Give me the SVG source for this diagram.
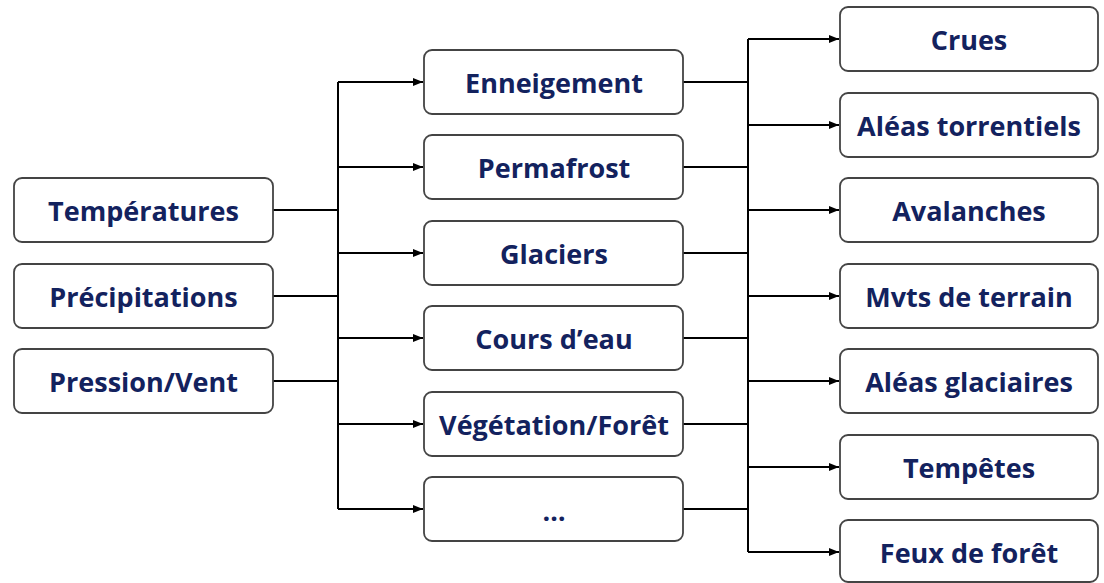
<svg xmlns="http://www.w3.org/2000/svg" width="1104" height="583" viewBox="0 0 1104 583">
<style>
.box{fill:#fff;stroke:#444;stroke-width:1.8}
.t{font-family:"Open Sans","Liberation Sans",sans-serif;font-weight:bold;font-size:27px;fill:#13225e;text-anchor:middle}
.c{fill:none;stroke:#000;stroke-width:2}
</style>
<defs>
<marker id="ah" viewBox="0 0 10 10" refX="10" refY="5" markerWidth="10" markerHeight="10" markerUnits="userSpaceOnUse" orient="auto">
<path d="M0,1 L10,5 L0,9 Z" fill="#000"/>
</marker>
</defs>
<rect width="1104" height="583" fill="#fff"/>
<g id="connectors">
<path class="c" d="M273,210 H338 M273,296 H338 M273,381 H338 M338,82 V509"/>
<path class="c" marker-end="url(#ah)" d="M338,82 H423"/>
<path class="c" marker-end="url(#ah)" d="M338,167 H423"/>
<path class="c" marker-end="url(#ah)" d="M338,253 H423"/>
<path class="c" marker-end="url(#ah)" d="M338,338 H423"/>
<path class="c" marker-end="url(#ah)" d="M338,424 H423"/>
<path class="c" marker-end="url(#ah)" d="M338,509 H423"/>
<path class="c" d="M683,82 H748 M683,167 H748 M683,253 H748 M683,338 H748 M683,424 H748 M683,509 H748 M748,39 V552"/>
<path class="c" marker-end="url(#ah)" d="M748,39 H839"/>
<path class="c" marker-end="url(#ah)" d="M748,125 H839"/>
<path class="c" marker-end="url(#ah)" d="M748,210 H839"/>
<path class="c" marker-end="url(#ah)" d="M748,296 H839"/>
<path class="c" marker-end="url(#ah)" d="M748,381 H839"/>
<path class="c" marker-end="url(#ah)" d="M748,467 H839"/>
<path class="c" marker-end="url(#ah)" d="M748,552 H839"/>
</g>
<g id="n-temperatures"><rect class="box" x="14" y="178" width="259" height="64" rx="8"/><text class="t" x="143.5" y="221">Températures</text></g>
<g id="n-precipitations"><rect class="box" x="14" y="264" width="259" height="64" rx="8"/><text class="t" x="143.5" y="307">Précipitations</text></g>
<g id="n-pression"><rect class="box" x="14" y="349" width="259" height="64" rx="8"/><text class="t" x="143.5" y="392">Pression/Vent</text></g>
<g id="n-enneigement"><rect class="box" x="424" y="50" width="259" height="64" rx="8"/><text class="t" x="554" y="93">Enneigement</text></g>
<g id="n-permafrost"><rect class="box" x="424" y="135" width="259" height="64" rx="8"/><text class="t" x="554" y="178">Permafrost</text></g>
<g id="n-glaciers"><rect class="box" x="424" y="221" width="259" height="64" rx="8"/><text class="t" x="554" y="264">Glaciers</text></g>
<g id="n-cours"><rect class="box" x="424" y="306" width="259" height="64" rx="8"/><text class="t" x="554" y="349">Cours d’eau</text></g>
<g id="n-vegetation"><rect class="box" x="424" y="392" width="259" height="64" rx="8"/><text class="t" x="554" y="435">Végétation/Forêt</text></g>
<g id="n-etc"><rect class="box" x="424" y="477" width="259" height="64" rx="8"/><text class="t" x="554" y="521">…</text></g>
<g id="n-crues"><rect class="box" x="840" y="7" width="258" height="64" rx="8"/><text class="t" x="969" y="50">Crues</text></g>
<g id="n-torrentiels"><rect class="box" x="840" y="93" width="258" height="64" rx="8"/><text class="t" x="969" y="136">Aléas torrentiels</text></g>
<g id="n-avalanches"><rect class="box" x="840" y="178" width="258" height="64" rx="8"/><text class="t" x="969" y="221">Avalanches</text></g>
<g id="n-mvts"><rect class="box" x="840" y="264" width="258" height="64" rx="8"/><text class="t" x="969" y="307">Mvts de terrain</text></g>
<g id="n-glaciaires"><rect class="box" x="840" y="349" width="258" height="64" rx="8"/><text class="t" x="969" y="392">Aléas glaciaires</text></g>
<g id="n-tempetes"><rect class="box" x="840" y="435" width="258" height="64" rx="8"/><text class="t" x="969" y="478">Tempêtes</text></g>
<g id="n-feux"><rect class="box" x="840" y="520" width="258" height="62" rx="8"/><text class="t" x="969" y="563">Feux de forêt</text></g>
</svg>
